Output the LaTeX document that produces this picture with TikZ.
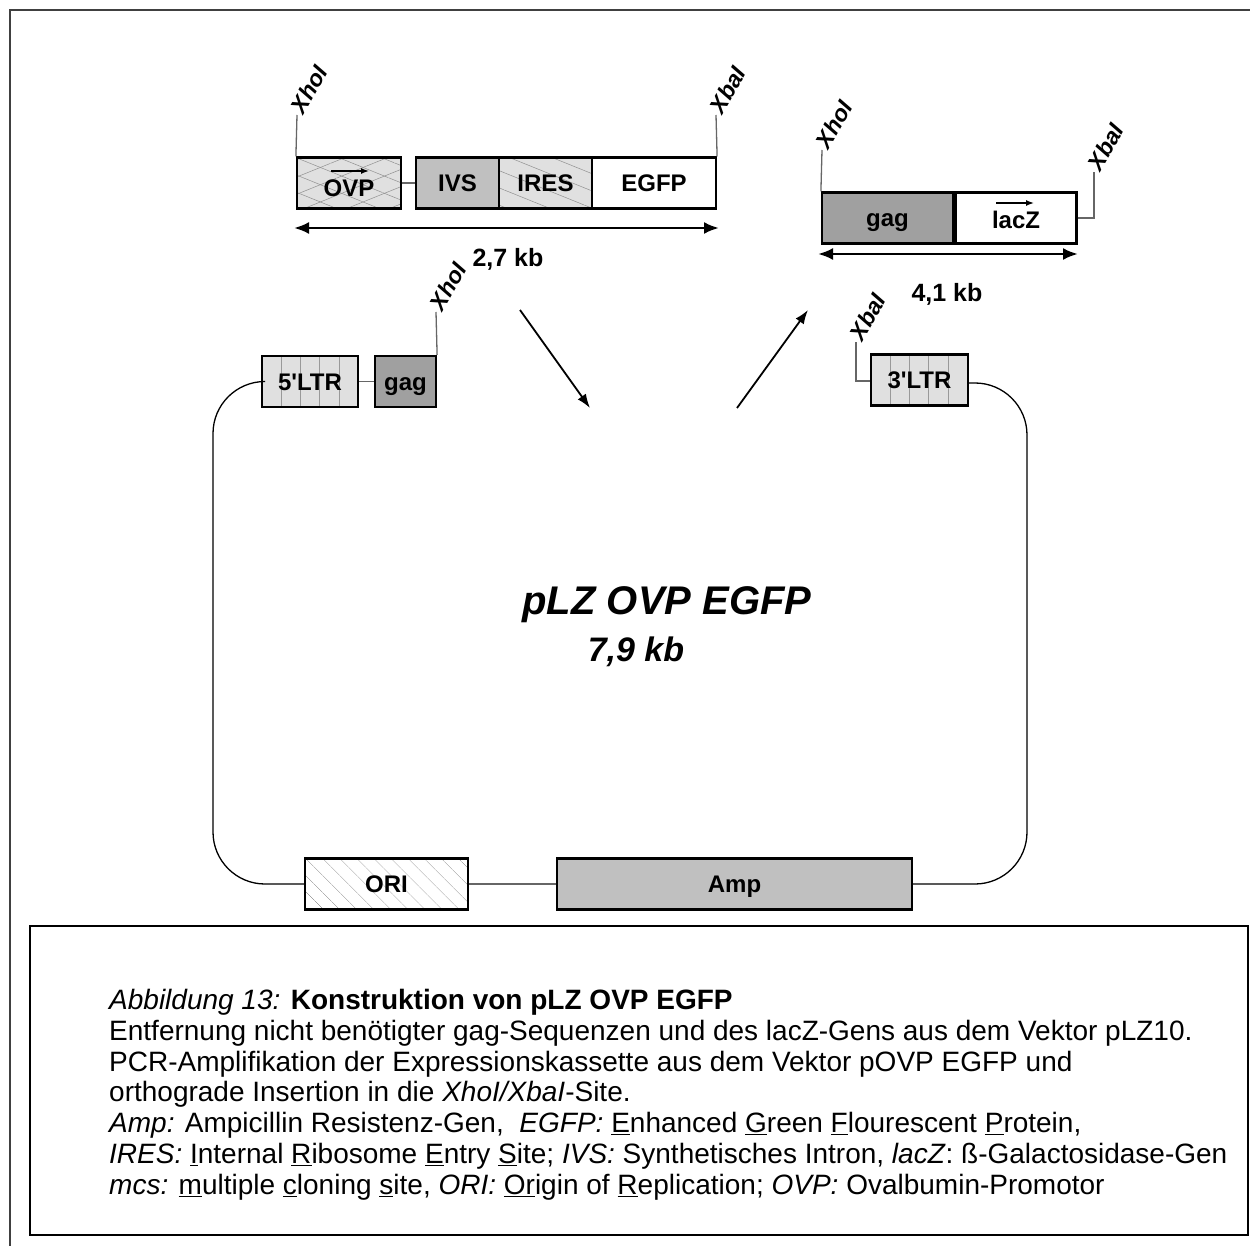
\documentclass[tikz,border=0pt]{standalone}
\usepackage{fontspec}
\setmainfont{Liberation Sans}
\newfontfamily\plainfont{Liberation Sans}
\usetikzlibrary{patterns.meta,arrows.meta}
\definecolor{lightf}{HTML}{E0E0E0}
\definecolor{midf}{HTML}{C0C0C0}
\definecolor{darkf}{HTML}{A0A0A0}
\definecolor{hatch}{HTML}{909090}
\begin{document}
\begin{tikzpicture}[x=1pt,y=-1pt,
  gbox/.style={draw=black, line width=2.2pt, inner sep=0pt, minimum height=51pt,
    text height=17.5pt, text depth=0pt,
    font=\plainfont\fontsize{24}{24}\selectfont\bfseries},
  ltrlines/.style={path picture={\foreach \k in {1,2,3,4}
      \draw[line width=0.6pt, black!40] ([xshift=\k*19.2pt]path picture bounding box.south west)
        -- ([xshift=\k*19.2pt]path picture bounding box.north west);}},
  site/.style={font=\fontsize{23}{23}\selectfont\bfseries\itshape, rotate=60, anchor=south west, inner sep=1pt},
  thin/.style={line width=1.3pt, black!60},
  sizearrow/.style={line width=2.6pt, {Latex[length=15pt,width=12pt]}-{Latex[length=15pt,width=12pt]}},
  bigarrow/.style={line width=1.8pt, -{Latex[length=14pt,width=10pt]}},
  kb/.style={font=\fontsize{25}{25}\selectfont\bfseries},
  dirarrow/.style={line width=1.4pt, -{Latex[length=8pt,width=6pt]}},
]
\useasboundingbox (0,0) rectangle (1250,1246);
% outer frame
\draw[line width=1.6pt, black!75] (1250,10) -- (10,10) -- (10,1246);

% ---------- top-left cassette ----------
\node[gbox, minimum width=104pt, text height=27pt, preaction={fill=lightf},
  preaction={pattern={Lines[angle=22,distance=16pt,line width=0.5pt]}, pattern color=hatch},
  preaction={pattern={Lines[angle=-22,distance=16pt,line width=0.5pt]}, pattern color=hatch}]
  (ovp) at (349,183) {OVP};
\node[gbox, minimum width=83pt, fill=midf] (ivs) at (457.5,183) {IVS};
\node[gbox, minimum width=93pt, preaction={fill=lightf},
  preaction={pattern={Lines[angle=-22,distance=16pt,line width=0.5pt]}, pattern color=hatch}]
  (ires) at (545.5,183) {IRES};
\node[gbox, minimum width=124pt, fill=white] (egfp) at (654,183) {EGFP};
\draw[thin] (ovp.east) -- (ivs.west);
\draw[dirarrow] (331,171) -- (369,171);
\coordinate (xho1) at (297,115);
\coordinate (xba1) at (716,115);
\draw[thin] (ovp.north west) -- (xho1);
\draw[thin] (egfp.north east) -- (xba1);
\node[site] (lx1) at ([xshift=7pt,yshift=-2pt]xho1) {XhoI};
\node[site] (lb1) at ([xshift=7pt,yshift=-2pt]xba1) {XbaI};
\coordinate (a1l) at (294,228);
\coordinate (a1r) at (719,228);
\draw[sizearrow] (a1l) -- (a1r);
\node[kb] (kb1) at (508,259) {2,7 kb};

% ---------- top-right fragment ----------
\node[gbox, minimum width=131pt, fill=darkf] (gag2) at (887.5,218) {gag};
\node[gbox, minimum width=121pt, fill=white, text height=22pt] (lacz) at (1016,218) {lacZ};
\draw[dirarrow] (996,203) -- (1034,203);
\coordinate (xho2) at (822,150);
\coordinate (xbc2) at (1094,218);
\coordinate (xba2) at (1094,172);
\draw[thin] (gag2.north west) -- (xho2);
\draw[thin] (lacz.east) -- (xbc2) -- (xba2);
\node[site] (lx2) at ([xshift=7pt,yshift=-2pt]xho2) {XhoI};
\node[site] (lb2) at ([xshift=7pt,yshift=-2pt]xba2) {XbaI};
\coordinate (a2l) at (818,254);
\coordinate (a2r) at (1078,254);
\draw[sizearrow] (a2l) -- (a2r);
\node[kb] (kb2) at (947,294) {4,1 kb};

% ---------- arrows ----------
\coordinate (in1) at (520,310);
\coordinate (in2) at (590,408);
\coordinate (out1) at (737,408);
\coordinate (out2) at (808,310);
\draw[bigarrow] (in1) -- (in2);
\draw[bigarrow] (out1) -- (out2);

% ---------- vector ----------
\node[gbox, minimum width=96pt, fill=lightf, ltrlines] (ltr5) at (310,381.5) {5'LTR};
\node[gbox, minimum width=61pt, fill=darkf] (gag1) at (405.5,381.5) {gag};
\draw[thin] (ltr5.east) -- (gag1.west);
\coordinate (xho3) at (436,312);
\draw[thin] (gag1.north east) -- (xho3);
\node[site] (lx3) at ([xshift=7pt,yshift=-2pt]xho3) {XhoI};

\node[gbox, minimum width=97pt, fill=lightf, ltrlines] (ltr3) at (919.5,380) {3'LTR};
\coordinate (xbc3) at (856,381);
\coordinate (xba3) at (856,342);
\draw[thin] (ltr3.west) ++(0,1) -- (xbc3) -- (xba3);
\node[site] (lb3) at ([xshift=7pt,yshift=-2pt]xba3) {XbaI};

\node[gbox, minimum width=163pt, preaction={fill=white},
  preaction={pattern={Lines[angle=-45,distance=13pt,line width=0.5pt]}, pattern color=hatch}]
  (ori) at (386.5,884) {ORI};
\node[gbox, minimum width=355pt, fill=midf] (amp) at (734.5,884) {Amp};
\draw[thin] (ori.east) -- (amp.west);

\draw[line width=1.3pt, rounded corners=52pt] (ltr5.west) -- (213,381.5) -- (213,884) -- (ori.west);
\draw[line width=1.3pt, rounded corners=52pt] (ltr3.east) ++(0,3) -- (1027,383) -- (1027,884) -- (amp.east);

\node[font=\fontsize{40}{40}\selectfont\bfseries\itshape] (title) at (667,605) {pLZ OVP EGFP};
\node[font=\fontsize{34}{34}\selectfont\bfseries\itshape] (size) at (636,652) {7,9 kb};

% ---------- caption ----------
\draw[line width=1.2pt] (30,926) rectangle (1248,1235);
\node[anchor=north west, align=left, inner sep=0pt, font=\fontsize{28}{30.8}\selectfont] (cap) at (109,989) {%
\textit{Abbildung 13:} \textbf{Konstruktion von pLZ OVP EGFP}\\
Entfernung nicht benötigter gag-Sequenzen und des lacZ-Gens aus dem Vektor pLZ10.\\
PCR-Amplifikation der Expressionskassette aus dem Vektor pOVP EGFP und\\
orthograde Insertion in die \textit{XhoI/XbaI}-Site.\\
\textit{Amp:} Ampicillin Resistenz-Gen,\ \ \textit{EGFP:} \underline{E}nhanced \underline{G}reen \underline{F}lourescent \underline{P}rotein,\\
\textit{IRES:} \underline{I}nternal \underline{R}ibosome \underline{E}ntry \underline{S}ite; \textit{IVS:} Synthetisches Intron, \textit{lacZ}: ß-Galactosidase-Gen\\
\textit{mcs:} \underline{m}ultiple \underline{c}loning \underline{s}ite, \textit{ORI:} \underline{Or}igin of \underline{R}eplication; \textit{OVP:} Ovalbumin-Promotor};
\end{tikzpicture}
\end{document}
